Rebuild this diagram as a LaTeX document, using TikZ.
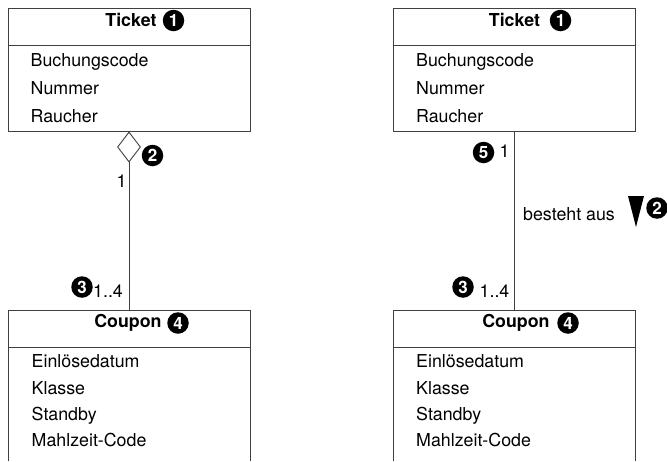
\documentclass[tikz,border=0pt]{standalone}
\usepackage{fontspec}
\setmainfont{TeX Gyre Heros}
\usetikzlibrary{shapes.geometric}
\tikzset{
  ln/.style={draw=black!75, line width=0.9pt},
  classbox/.style={ln, minimum width=242pt, minimum height=123pt, anchor=north west, inner sep=0pt},
  openbox/.style={minimum width=242pt, minimum height=151pt, anchor=north west, inner sep=0pt},
  txt/.style={inner sep=0pt, anchor=base west, font=\fontsize{17.8}{20}\selectfont},
  ttl/.style={inner sep=0pt, anchor=base, font=\fontsize{17.8}{20}\selectfont\bfseries},
  badge/.style={circle, fill=black, text=white, inner sep=0pt, minimum size=21.5pt, font=\fontsize{17}{17}\selectfont\bfseries},
}
\begin{document}
\begin{tikzpicture}[x=1pt,y=-1pt]
\useasboundingbox (0,0) rectangle (667,461);
% ---------- left ----------
\node[classbox] (t1) at (8,8) {};
\draw[ln] (8,45) -- (250,45);
\node[ttl] (t1t) at (131,26) {Ticket};
\node[badge] (b1l) at (173.5,20.5) {1};
\node[txt] (t1a) at (30.5,66.5) {Buchungscode};
\node[txt] (t1b) at (30.5,94) {Nummer};
\node[txt] (t1c) at (30.5,122) {Raucher};

\node[openbox] (c1) at (8,310) {};
\draw[ln] (c1.south west) -- (c1.north west) -- (c1.north east) -- (c1.south east);
\draw[ln] (8,347) -- (250,347);
\node[ttl] (c1t) at (128,327) {Coupon};
\node[badge] (b4l) at (178,323) {4};
\node[txt] (c1a) at (31.5,367) {Einlösedatum};
\node[txt] (c1b) at (31.5,394) {Klasse};
\node[txt] (c1c) at (31.5,420) {Standby};
\node[txt] (c1d) at (31.5,446.5) {Mahlzeit-Code};

\node[diamond, ln, fill=white, minimum width=23pt, minimum height=30pt, inner sep=0pt] (dia) at (129,147) {};
\draw[ln] (dia.south) -- (dia.south |- c1.north);
\node[badge] (b2l) at (152.5,155.5) {2};
\node[txt] (m1l) at (116.5,187) {1};
\node[badge] (b3l) at (82,287) {3};
\node[txt] (m4l) at (93,297) {1..4};

% ---------- right ----------
\node[classbox] (t2) at (393,8) {};
\draw[ln] (393,45.5) -- (635,45.5);
\node[ttl] (t2t) at (514.5,26) {Ticket};
\node[badge] (b1r) at (560.5,20.5) {1};
\node[txt] (t2a) at (416,66.5) {Buchungscode};
\node[txt] (t2b) at (416,94) {Nummer};
\node[txt] (t2c) at (416,122) {Raucher};

\node[openbox] (c2) at (393,310) {};
\draw[ln] (c2.south west) -- (c2.north west) -- (c2.north east) -- (c2.south east);
\draw[ln] (393,347) -- (635,347);
\node[ttl] (c2t) at (516,327) {Coupon};
\node[badge] (b4r) at (568,323) {4};
\node[txt] (c2a) at (416,367) {Einlösedatum};
\node[txt] (c2b) at (416,394) {Klasse};
\node[txt] (c2c) at (416,420) {Standby};
\node[txt] (c2d) at (416,446.5) {Mahlzeit-Code};

\draw[ln] (t2.south) -- (t2.south |- c2.north);
\node[badge] (b5r) at (483.5,152.5) {5};
\node[txt] (m1r) at (499.5,157.5) {1};
\node[txt] (lbl) at (523,220) {besteht aus};
\fill (628,196) -- (644,196) -- (636,227) -- cycle;
\node[badge] (b2r) at (657,208) {2};
\node[badge] (b3r) at (463,287) {3};
\node[txt] (m4r) at (479.5,297) {1..4};
\end{tikzpicture}
\end{document}
